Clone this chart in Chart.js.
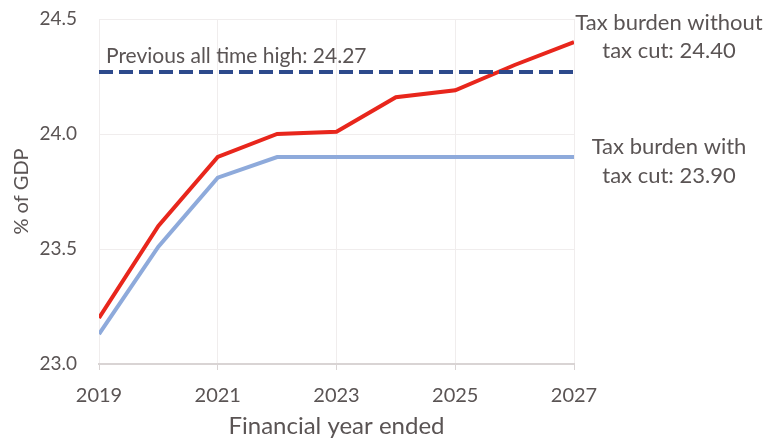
<!DOCTYPE html>
<html lang="en">
<head>
  <meta charset="UTF-8" />
  <title>Tax burden</title>
  <script src="https://cdn.jsdelivr.net/npm/chart.js"></script>
  <style>
    html, body { margin: 0; padding: 0; background: #ffffff; }
    #wrap { width: 768px; height: 441px; }
  </style>
</head>
<body>
<div id="wrap"><canvas id="taxChart"></canvas></div>
<script>
  // financial years and % of GDP
  const years = [2019, 2020, 2021, 2022, 2023, 2024, 2025, 2026, 2027];
  const withoutCut = [23.20, 23.60, 23.90, 24.00, 24.01, 24.16, 24.19, 24.30, 24.40];
  const withCut = [23.13, 23.51, 23.81, 23.90, 23.90, 23.90, 23.90, 23.90, 23.90];
  const previousHigh = 24.27;
  const yTicks = [23.0, 23.5, 24.0, 24.5];
  const xTicks = [2019, 2021, 2023, 2025, 2027];

  const textColor = '#5a5454';
  const fontFamily = 'Lato, sans-serif';

  const toPoints = vals => vals.map((v, i) => ({ x: years[i], y: v }));

  // text notes tied to the scales
  const notes = {
    id: 'notes',
    afterDatasetsDraw(chart) {
      const { ctx, scales: { x, y } } = chart;
      ctx.save();
      ctx.fillStyle = textColor;
      ctx.textBaseline = 'middle';

      ctx.font = '21px ' + fontFamily;
      ctx.textAlign = 'left';
      ctx.fillText('Previous all time high: ' + previousHigh.toFixed(2), x.left + 7, y.getPixelForValue(previousHigh) - 16);

      ctx.font = '22px ' + fontFamily;
      const lastX = x.getPixelForValue(years[years.length - 1]) + 95;
      ctx.textAlign = 'center';
      const yA = y.getPixelForValue(withoutCut[withoutCut.length - 1]);
      ctx.fillText('Tax burden without', lastX, yA - 19);
      ctx.fillText('tax cut: ' + withoutCut[withoutCut.length - 1].toFixed(2), lastX, yA + 9);
      const yB = y.getPixelForValue(withCut[withCut.length - 1]);
      ctx.fillText('Tax burden with', lastX, yB - 10);
      ctx.fillText('tax cut: ' + withCut[withCut.length - 1].toFixed(2), lastX, yB + 19);
      ctx.restore();
    }
  };

  new Chart(document.getElementById('taxChart'), {
    type: 'line',
    data: {
      datasets: [
        {
          label: 'Previous all time high',
          data: [{ x: years[0], y: previousHigh }, { x: years[years.length - 1], y: previousHigh }],
          borderColor: '#2d4a8c',
          borderWidth: 4,
          borderDash: [14, 6],
          pointRadius: 0
        },
        {
          label: 'Tax burden with tax cut',
          data: toPoints(withCut),
          borderColor: '#8eaadb',
          borderWidth: 4,
          pointRadius: 0,
          tension: 0
        },
        {
          label: 'Tax burden without tax cut',
          data: toPoints(withoutCut),
          borderColor: '#e8261c',
          borderWidth: 4,
          pointRadius: 0,
          tension: 0
        }
      ]
    },
    options: {
      responsive: true,
      maintainAspectRatio: false,
      animation: false,
      layout: { padding: { left: 0, right: 194, top: 19, bottom: 0 } },
      plugins: { legend: { display: false }, tooltip: { enabled: false } },
      scales: {
        x: {
          type: 'linear',
          min: years[0],
          max: years[years.length - 1],
          afterBuildTicks: axis => { axis.ticks = xTicks.map(v => ({ value: v })); },
          ticks: {
            color: textColor,
            font: { family: fontFamily, size: 20 },
            padding: 14,
            callback: v => String(v)
          },
          grid: { color: '#f0eded', lineWidth: 1, drawTicks: true, tickLength: 6, tickColor: '#d9d4d4' },
          border: { color: '#d9d4d4', width: 2 },
          title: {
            display: true,
            text: 'Financial year ended',
            color: textColor,
            font: { family: fontFamily, size: 24 },
            padding: { top: 4, bottom: 0 }
          },
          afterFit: scale => { scale.height = 77; }
        },
        y: {
          min: yTicks[0],
          max: yTicks[yTicks.length - 1],
          afterBuildTicks: axis => { axis.ticks = yTicks.map(v => ({ value: v })); },
          ticks: {
            color: textColor,
            font: { family: fontFamily, size: 19 },
            padding: 22,
            callback: v => v.toFixed(1)
          },
          grid: { color: '#f0eded', lineWidth: 1, drawTicks: false },
          border: { display: false },
          title: {
            display: true,
            text: '% of GDP',
            color: textColor,
            font: { family: fontFamily, size: 20 },
            padding: { top: 10, bottom: 0 }
          },
          afterFit: scale => {
            scale.width = 99;
            scale.paddingTop = 0;
            scale.paddingBottom = 0;
          }
        }
      }
    },
    plugins: [notes]
  });
</script>
</body>
</html>
